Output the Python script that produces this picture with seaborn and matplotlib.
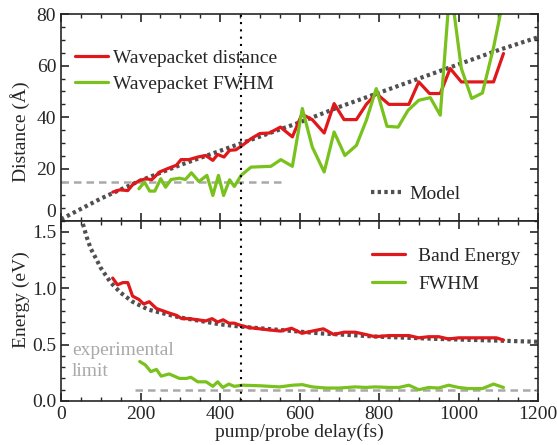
"""
Wavepacket distance / band energy vs pump-probe delay
"""

import numpy as np
import pandas as pd
import matplotlib
matplotlib.use('Agg')
import matplotlib.pyplot as plt
from matplotlib.ticker import MultipleLocator
import seaborn as sns

# %% data

# top panel: wavepacket distance (Angstrom)
dist_t = [130, 148, 168, 182, 198, 214, 228, 248, 268, 290, 302, 322, 344, 364, 382,
          394, 410, 424, 440, 456, 478, 500, 524, 552, 582, 606, 632, 662, 687, 712,
          743, 768, 793, 825, 850, 875, 900, 927, 954, 979, 1007, 1035, 1060, 1088, 1113]
dist_v = [11.0, 11.9, 11.6, 14.2, 15.5, 16.2, 15.8, 18.8, 20.1, 21.4, 23.6, 23.6, 24.6, 25.2, 23.3,
          25.6, 24.6, 27.2, 27.4, 29.1, 31.7, 33.7, 33.9, 36.2, 32.4, 41.2, 39.1, 33.9, 45.3, 39.1,
          39.1, 45.0, 49.2, 45.0, 45.0, 45.0, 53.7, 49.2, 49.2, 58.9, 53.7, 53.7, 53.7, 53.7, 64.7]

# top panel: wavepacket FWHM (Angstrom)
fwhm_t = [196, 210, 223, 236, 251, 263, 277, 298, 313, 328, 347, 367, 382, 396, 409,
          424, 436, 453, 478, 528, 553, 582, 607, 632, 662, 687, 714, 743, 768, 793,
          820, 848, 873, 900, 929, 954, 979, 1007, 1033, 1060, 1088, 1113]
fwhm_v = [12.3, 14.9, 11.4, 11.4, 16.2, 12.9, 15.9, 16.4, 15.9, 18.5, 15.1, 17.5, 9.7, 17.5, 9.7,
          15.8, 13.2, 17.5, 20.7, 21.0, 23.6, 21.0, 43.4, 28.5, 18.8, 34.3, 25.2, 29.1, 38.8, 51.1,
          36.5, 36.2, 42.7, 46.6, 47.6, 40.8, 92.0, 58.9, 47.3, 49.4, 67.0, 86.0]

# top panel: model curve
model_d_t = [0, 100, 200, 300, 400, 500, 600, 700, 800, 900, 1000, 1100, 1200]
model_d_v = [0.5, 8.5, 15.5, 21.5, 27.0, 32.5, 38.0, 44.0, 49.5, 55.0, 60.5, 66.0, 71.0]

# bottom panel: band energy (eV)
band_t = [130, 142, 156, 168, 180, 196, 208, 222, 240, 256, 272, 290, 304, 322, 344,
          364, 380, 394, 408, 422, 436, 452, 474, 500, 524, 552, 580, 606, 632, 660,
          686, 712, 740, 766, 790, 825, 850, 875, 900, 925, 950, 975, 1000, 1050, 1095, 1113]
band_v = [1.09, 1.03, 1.05, 1.05, 0.93, 0.90, 0.86, 0.88, 0.82, 0.80, 0.78, 0.76, 0.73, 0.73, 0.72,
          0.71, 0.73, 0.70, 0.72, 0.69, 0.69, 0.67, 0.65, 0.64, 0.63, 0.62, 0.645, 0.60, 0.62, 0.64,
          0.59, 0.61, 0.61, 0.59, 0.57, 0.58, 0.58, 0.58, 0.56, 0.57, 0.57, 0.55, 0.56, 0.56, 0.56, 0.54]

# bottom panel: energy FWHM (eV)
efwhm_t = [198, 212, 226, 240, 252, 272, 298, 315, 327, 344, 365, 382, 394, 407, 422,
           436, 457, 500, 550, 583, 607, 632, 666, 700, 741, 766, 791, 825, 850, 875,
           900, 925, 950, 975, 1000, 1025, 1060, 1088, 1113]
efwhm_v = [0.35, 0.32, 0.26, 0.28, 0.22, 0.24, 0.20, 0.20, 0.21, 0.17, 0.17, 0.13, 0.17, 0.12, 0.15,
           0.13, 0.14, 0.135, 0.125, 0.14, 0.145, 0.125, 0.115, 0.115, 0.125, 0.12, 0.125, 0.12, 0.12, 0.14,
           0.10, 0.12, 0.115, 0.14, 0.12, 0.11, 0.11, 0.15, 0.12]

# bottom panel: model curve
model_e_t = [55, 65, 75, 90, 100, 125, 150, 180, 220, 265, 300, 350, 400, 450,
             550, 650, 800, 950, 1100, 1200]
model_e_v = [1.57, 1.45, 1.35, 1.25, 1.18, 1.05, 0.96, 0.88, 0.81, 0.77, 0.74, 0.71, 0.68, 0.66,
             0.63, 0.60, 0.57, 0.55, 0.535, 0.525]

# tick labels
dist_ticks = [0, 20, 40, 60, 80]
energy_ticks = [0.0, 0.5, 1.0, 1.5]
delay_ticks = [0, 200, 400, 600, 800, 1000, 1200]

# reference lines
dist_limit = 15.0          # Angstrom, drawn 0..565 fs
dist_limit_span = [0, 565]
energy_limit = 0.1         # eV, drawn 185..1200 fs
energy_limit_span = [185, 1200]
delay_marker = 452         # fs

RED = '#e0181b'
GREEN = '#79c11c'
GREY = '#a9a9a9'
DARK = '#505050'

# %% style
sns.set_style('ticks')
plt.rcParams['font.family'] = ['Liberation Serif', 'DejaVu Serif']
plt.rcParams['xtick.direction'] = 'in'
plt.rcParams['ytick.direction'] = 'in'
plt.rcParams['axes.linewidth'] = 1.2

fig, (ax1, ax2) = plt.subplots(2, 1, figsize=(5.57, 4.45), dpi=100, sharex=True,
                               gridspec_kw={'height_ratios': [206, 180]})
fig.subplots_adjust(left=0.1095, right=0.966, top=0.9685, bottom=0.0989, hspace=0)

# %% top panel
sns.lineplot(x=model_d_t, y=model_d_v, ax=ax1, color=DARK, lw=3.0,
             linestyle=(0, (0.8, 0.8)), label='Model')
sns.lineplot(x=dist_limit_span, y=[dist_limit] * 2, ax=ax1, color=GREY, lw=1.8,
             linestyle=(0, (3, 2)), legend=False)
sns.lineplot(x=dist_t, y=dist_v, ax=ax1, color=RED, lw=2.3, label='Wavepacket distance')
sns.lineplot(x=fwhm_t, y=fwhm_v, ax=ax1, color=GREEN, lw=2.3, label='Wavepacket FWHM')
ax1.axvline(delay_marker, color='black', lw=1.5, linestyle=(0, (1, 2.5)))

ax1.set_ylim(0, 80)
ax1.set_yticks(dist_ticks)
ax1.yaxis.set_minor_locator(MultipleLocator(5))
ax1.set_ylabel('Distance (Å)', fontsize=14)
ax1.yaxis.set_label_coords(-0.064, 0.43)

h, l = ax1.get_legend_handles_labels()
leg1 = ax1.legend(h[1:], l[1:], loc='upper left', bbox_to_anchor=(0.0, 0.895),
                  frameon=False, fontsize=14, handlelength=1.7, handletextpad=0.3,
                  labelspacing=0.45, borderaxespad=0.3)
ax1.add_artist(leg1)
ax1.legend(h[:1], l[:1], loc='lower right', bbox_to_anchor=(0.875, 0.0),
           frameon=False, fontsize=14, handlelength=1.7, handletextpad=0.3)

# %% bottom panel
sns.lineplot(x=model_e_t, y=model_e_v, ax=ax2, color=DARK, lw=3.0,
             linestyle=(0, (0.8, 0.8)), legend=False)
sns.lineplot(x=energy_limit_span, y=[energy_limit] * 2, ax=ax2, color=GREY, lw=1.8,
             linestyle=(0, (3, 2)), legend=False)
sns.lineplot(x=band_t, y=band_v, ax=ax2, color=RED, lw=2.3, label='Band Energy')
sns.lineplot(x=efwhm_t, y=efwhm_v, ax=ax2, color=GREEN, lw=2.3, label='FWHM')
ax2.axvline(delay_marker, color='black', lw=1.5, linestyle=(0, (1, 2.5)))
ax2.text(28, 0.45, 'experimental', color=GREY, fontsize=14, va='center')
ax2.text(28, 0.26, 'limit', color=GREY, fontsize=14, va='center')

ax2.set_ylim(0, 1.6)
ax2.set_xlim(0, 1200)
ax2.set_yticks(energy_ticks)
ax2.set_xticks(delay_ticks)
ax2.yaxis.set_minor_locator(MultipleLocator(0.1))
ax2.xaxis.set_minor_locator(MultipleLocator(50))
ax2.set_ylabel('Energy (eV)', fontsize=14)
ax2.yaxis.set_label_coords(-0.064, 0.56)
ax2.set_xlabel('pump/probe delay(fs)', fontsize=14, labelpad=0)
ax2.legend(loc='upper right', bbox_to_anchor=(1.0, 0.95), frameon=False, fontsize=14,
           handlelength=1.7, handletextpad=0.7, labelspacing=0.55)

for ax in (ax1, ax2):
    ax.tick_params(which='both', top=True, right=True, labelsize=14)
    ax.tick_params(which='major', length=6, width=1.2)
    ax.tick_params(which='minor', length=3, width=1.0)
ax1.set_xlim(0, 1200)

# lift the "0" of the upper panel off the lower panel's "1.5"
ax1.yaxis.get_major_ticks()[0].label1.set_verticalalignment('bottom')

fig.savefig('out.png', dpi=100)
